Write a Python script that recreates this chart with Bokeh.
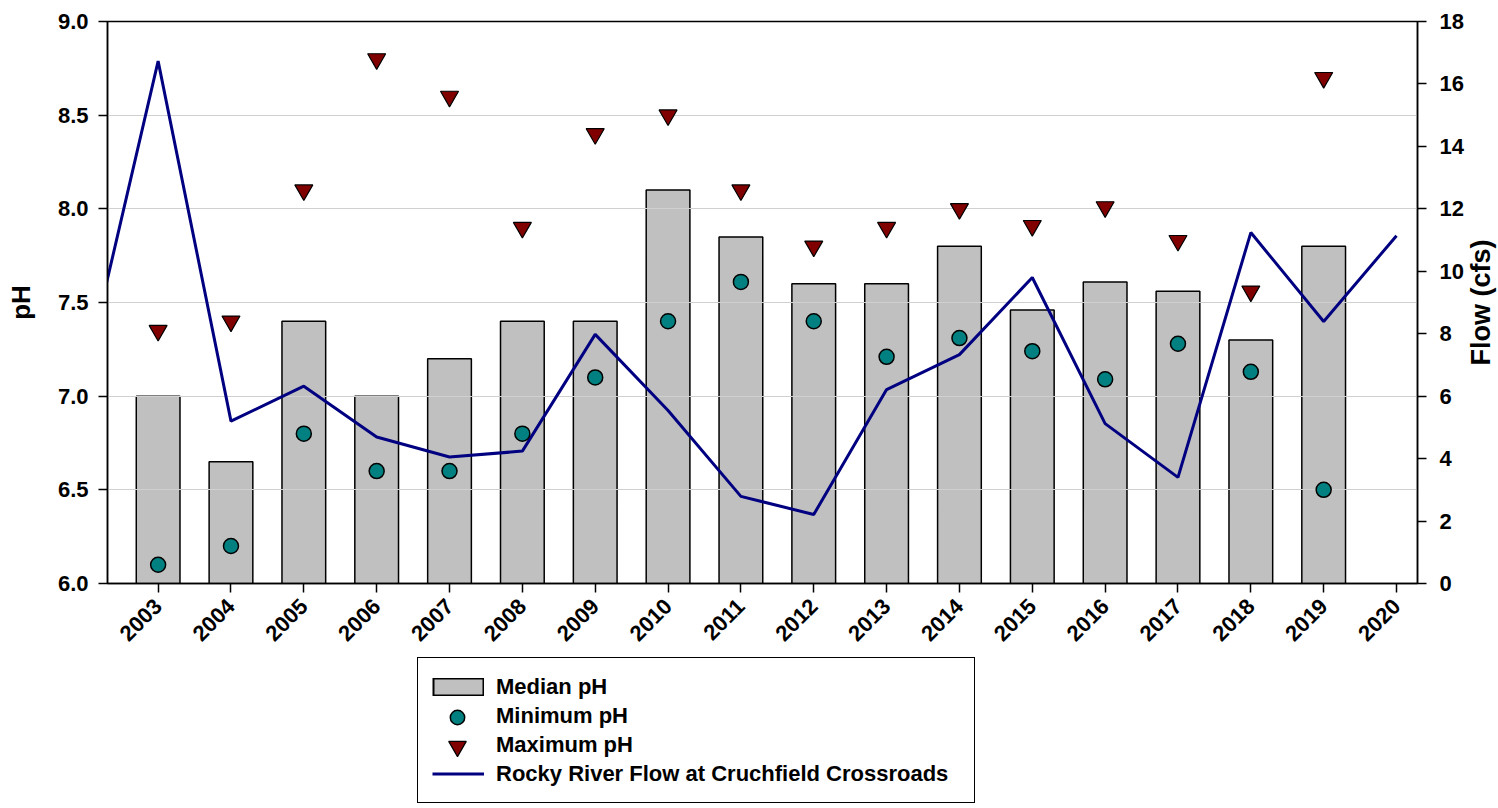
import math
from bokeh.plotting import figure
from bokeh.layouts import column, row
from bokeh.models import Range1d, LinearAxis, FixedTicker, Legend, LegendItem, Label
from bokeh.embed import file_html
from bokeh.resources import INLINE

# ---------------- data ----------------
years = [2003, 2004, 2005, 2006, 2007, 2008, 2009, 2010, 2011,
         2012, 2013, 2014, 2015, 2016, 2017, 2018, 2019]
median_ph = [7.0, 6.65, 7.4, 7.0, 7.2, 7.4, 7.4, 8.1, 7.85,
             7.6, 7.6, 7.8, 7.46, 7.61, 7.56, 7.3, 7.8]
min_ph = [6.1, 6.2, 6.8, 6.6, 6.6, 6.8, 7.1, 7.4, 7.61,
          7.4, 7.21, 7.31, 7.24, 7.09, 7.28, 7.13, 6.5]
max_ph = [7.35, 7.4, 8.1, 8.8, 8.6, 7.9, 8.4, 8.5, 8.1,
          7.8, 7.9, 8.0, 7.91, 8.01, 7.83, 7.56, 8.7]

flow_years = [2002, 2003, 2004, 2005, 2006, 2007, 2008, 2009, 2010, 2011,
              2012, 2013, 2014, 2015, 2016, 2017, 2018, 2019, 2020]
flow_cfs = [6.7, 16.73, 5.2, 6.32, 4.69, 4.05, 4.24, 7.98, 5.54, 2.79,
            2.21, 6.21, 7.33, 9.8, 5.12, 3.4, 11.24, 8.39, 11.14]

x_ticks = [2003, 2004, 2005, 2006, 2007, 2008, 2009, 2010, 2011,
           2012, 2013, 2014, 2015, 2016, 2017, 2018, 2019, 2020]
x_tick_labels = ["2003", "2004", "2005", "2006", "2007", "2008", "2009", "2010", "2011",
                 "2012", "2013", "2014", "2015", "2016", "2017", "2018", "2019", "2020"]
ph_ticks = [6.0, 6.5, 7.0, 7.5, 8.0, 8.5, 9.0]
ph_tick_labels = ["6.0", "6.5", "7.0", "7.5", "8.0", "8.5", "9.0"]
flow_ticks = [0, 2, 4, 6, 8, 10, 12, 14, 16, 18]
flow_tick_labels = ["0", "2", "4", "6", "8", "10", "12", "14", "16", "18"]

FONT = "Liberation Sans"
BAR_COLOR = "#C0C0C0"
MIN_COLOR = "#008080"
MAX_COLOR = "#800000"
FLOW_COLOR = "#000080"

# ---------------- main chart ----------------
p = figure(width=1466, height=656,
           x_range=Range1d(2002.305, 2020.288), y_range=Range1d(6.0, 9.0),
           output_backend="svg", toolbar_location=None,
           min_border_left=107, min_border_right=48,
           min_border_top=21, min_border_bottom=73)
p.extra_y_ranges = {"flow": Range1d(0, 18)}
p.outline_line_color = "black"
p.outline_line_width = 1.5

bars = p.vbar(x=years, top=median_ph, bottom=6.0, width=0.6,
              fill_color=BAR_COLOR, line_color="black", line_width=1.5,
              level="image")
flow_line = p.line(x=flow_years, y=flow_cfs, y_range_name="flow",
                   line_color=FLOW_COLOR, line_width=3)
circ = p.scatter(x=years, y=min_ph, marker="circle", size=15,
                 fill_color=MIN_COLOR, line_color="black", line_width=1.5)
tri = p.scatter(x=years, y=max_ph, marker="inverted_triangle", size=18,
                fill_color=MAX_COLOR, line_color="black", line_width=1.2)

p.xgrid.visible = False
p.ygrid.ticker = FixedTicker(ticks=ph_ticks)
p.ygrid.grid_line_color = "#D0D0D0"
p.ygrid.grid_line_width = 1.2
p.ygrid.level = "underlay"


def style_axis(ax, standoff):
    ax.axis_line_color = "black"
    ax.axis_line_width = 1.5
    ax.major_tick_line_color = "black"
    ax.major_tick_line_width = 1.5
    ax.major_tick_out = 9
    ax.major_tick_in = 0
    ax.minor_tick_line_color = None
    ax.major_label_text_font = FONT
    ax.major_label_text_font_style = "bold"
    ax.major_label_text_font_size = "22px"
    ax.major_label_text_color = "black"
    ax.major_label_standoff = standoff
    ax.axis_label_text_font = FONT
    ax.axis_label_text_font_style = "bold"
    ax.axis_label_text_font_size = "26px"
    ax.axis_label_text_color = "black"


xa = p.xaxis[0]
style_axis(xa, 10)
xa.ticker = FixedTicker(ticks=x_ticks)
xa.major_label_overrides = dict(zip(x_ticks, x_tick_labels))
xa.major_label_orientation = math.pi / 4

ya = p.yaxis[0]
style_axis(ya, 10)
ya.ticker = FixedTicker(ticks=ph_ticks)
ya.major_label_overrides = dict(zip(ph_ticks, ph_tick_labels))
ya.axis_label = "pH"
ya.axis_label_standoff = 19

ra = LinearAxis(y_range_name="flow")
style_axis(ra, 13)
ra.ticker = FixedTicker(ticks=flow_ticks)
ra.major_label_overrides = dict(zip(flow_ticks, flow_tick_labels))
p.add_layout(ra, "right")

# ---------------- right-hand axis title (reads bottom to top) ----------------
side = figure(width=32, height=656, x_range=Range1d(0, 32), y_range=Range1d(0, 656),
              x_axis_type=None, y_axis_type=None, output_backend="svg",
              toolbar_location=None, min_border=0)
side.outline_line_color = None
side.xgrid.visible = False
side.ygrid.visible = False
side.add_layout(Label(x=14, y=354, text="Flow (cfs)", angle=math.pi / 2,
                      text_align="center", text_baseline="middle",
                      text_font=FONT, text_font_style="bold",
                      text_font_size="27px", text_color="black"))

# ---------------- legend strip ----------------
leg = figure(width=1466, height=152, x_range=Range1d(0, 1), y_range=Range1d(0, 1),
             x_axis_type=None, y_axis_type=None, output_backend="svg",
             toolbar_location=None, min_border=0)
leg.outline_line_color = None
leg.xgrid.visible = False
leg.ygrid.visible = False
# same series in a plot whose ranges keep them out of view: only legend swatches show
l_edge = leg.line(x=years, y=median_ph, line_color="black", line_width=18, line_cap="butt")
l_fill = leg.line(x=years, y=median_ph, line_color=BAR_COLOR, line_width=15, line_cap="butt",
                  line_dash="48 100", line_dash_offset=146)
l_min = leg.scatter(x=years, y=min_ph, marker="circle",
                    fill_color=MIN_COLOR, line_color="black", line_width=1.5)
l_max = leg.scatter(x=years, y=max_ph, marker="inverted_triangle",
                    fill_color=MAX_COLOR, line_color="black", line_width=1.2)
l_flow = leg.line(x=flow_years, y=flow_cfs, line_color=FLOW_COLOR, line_width=3)

legend = Legend(items=[
    LegendItem(label="Median pH", renderers=[l_edge, l_fill]),
    LegendItem(label="Minimum pH", renderers=[]),
    LegendItem(label="Maximum pH", renderers=[]),
    LegendItem(label="Rocky River Flow at Cruchfield Crossroads", renderers=[l_flow]),
], location=(310, 5), glyph_width=52, glyph_height=29, label_height=29,
    spacing=0, padding=14, margin=0, label_standoff=12, label_width=464,
    border_line_color="black", border_line_width=1.8, border_line_alpha=1.0,
    background_fill_color="white", background_fill_alpha=1.0,
    label_text_font=FONT, label_text_font_style="bold", label_text_font_size="22px",
    label_text_color="black")
leg.add_layout(legend, "center")

marker_style = dict(glyph_width=52, label_height=20, label_width=0, label_standoff=0,
                    spacing=0, padding=0, margin=0, border_line_color=None,
                    background_fill_alpha=0, label_text_font_size="22px")
leg_min = Legend(items=[LegendItem(label=" ", renderers=[l_min])],
                 location=(324, 73), glyph_height=36, **marker_style)
leg_max = Legend(items=[LegendItem(label=" ", renderers=[l_max])],
                 location=(324, 40), glyph_height=44, **marker_style)
leg.add_layout(leg_min, "center")
leg.add_layout(leg_max, "center")

layout = row(column(p, leg, spacing=0), side, spacing=0)
open("out.html", "w").write(file_html(layout, INLINE))
